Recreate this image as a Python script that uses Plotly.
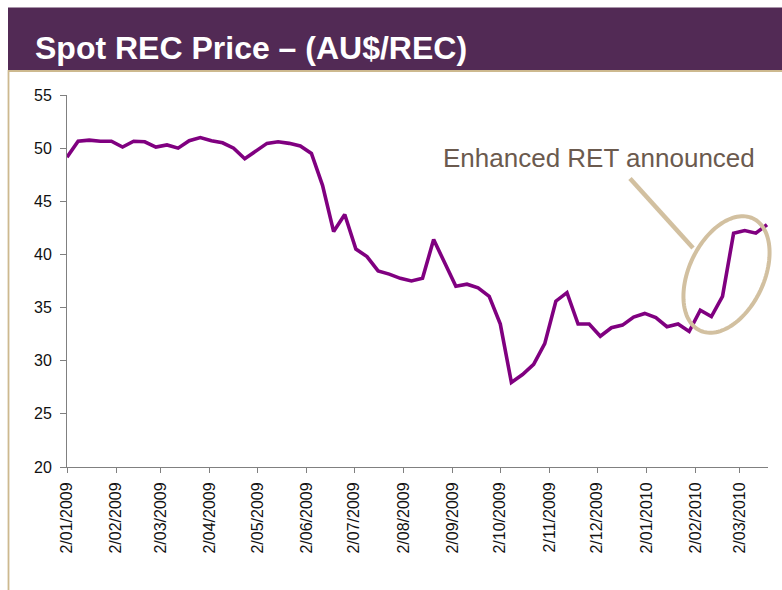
import math
import plotly.graph_objects as go

# ---------------- data ----------------
dates = [
    "2009-01-02", "2009-01-09", "2009-01-16", "2009-01-23", "2009-01-30",
    "2009-02-06", "2009-02-13", "2009-02-20", "2009-02-27",
    "2009-03-06", "2009-03-13", "2009-03-20", "2009-03-27",
    "2009-04-03", "2009-04-10", "2009-04-17", "2009-04-24",
    "2009-05-01", "2009-05-08", "2009-05-15", "2009-05-22", "2009-05-29",
    "2009-06-05", "2009-06-12", "2009-06-19", "2009-06-26",
    "2009-07-03", "2009-07-10", "2009-07-17", "2009-07-24", "2009-07-31",
    "2009-08-07", "2009-08-14", "2009-08-21", "2009-08-28",
    "2009-09-04", "2009-09-11", "2009-09-18", "2009-09-25",
    "2009-10-02", "2009-10-09", "2009-10-16", "2009-10-23", "2009-10-30",
    "2009-11-06", "2009-11-13", "2009-11-20", "2009-11-27",
    "2009-12-04", "2009-12-11", "2009-12-18", "2009-12-25",
    "2010-01-01", "2010-01-08", "2010-01-15", "2010-01-22", "2010-01-29",
    "2010-02-05", "2010-02-12", "2010-02-19", "2010-02-26",
    "2010-03-05", "2010-03-12", "2010-03-19",
]
price = [
    49.15, 50.65, 50.75, 50.65, 50.65,
    50.1, 50.65, 50.6, 50.1,
    50.3, 50.0, 50.7, 51.0,
    50.7, 50.5, 50.0, 49.0,
    49.7, 50.45, 50.6, 50.45, 50.2,
    49.5, 46.5, 42.15, 43.75,
    40.5, 39.8, 38.45, 38.15, 37.75,
    37.5, 37.75, 41.4, 39.2,
    37.0, 37.2, 36.85, 36.05,
    33.45, 27.95, 28.7, 29.65, 31.6,
    35.6, 36.4, 33.45, 33.45,
    32.3, 33.1, 33.35, 34.1,
    34.45, 34.05, 33.2, 33.45, 32.75,
    34.75, 34.15, 36.05, 42.0,
    42.25, 42.0, 42.8,
]
tick_dates = [
    "2009-01-02", "2009-02-02", "2009-03-02", "2009-04-02", "2009-05-02",
    "2009-06-02", "2009-07-02", "2009-08-02", "2009-09-02", "2009-10-02",
    "2009-11-02", "2009-12-02", "2010-01-02", "2010-02-02", "2010-03-02",
]
tick_labels = [
    "2/01/2009", "2/02/2009", "2/03/2009", "2/04/2009", "2/05/2009",
    "2/06/2009", "2/07/2009", "2/08/2009", "2/09/2009", "2/10/2009",
    "2/11/2009", "2/12/2009", "2/01/2010", "2/02/2010", "2/03/2010",
]
title_text = "Spot REC Price \u2013 (AU$/REC)"
note_text = "Enhanced RET announced"

# ---------------- layout helpers ----------------
W, H = 782, 590
ML, MR, MT, MB = 67, 14, 95, 123
PW = W - ML - MR
PH = H - MT - MB


def px(x):
    return (x - ML) / PW


def py(y):
    return (H - MB - y) / PH


PURPLE = "#800080"
BAND = "#522A55"
TAN = "#D2C0A0"
BORDER = "#CDB98F"
FONT = "Liberation Sans, Arial, sans-serif"

fig = go.Figure()
fig.add_trace(go.Scatter(
    x=dates, y=price, mode="lines",
    line=dict(color=PURPLE, width=3.6),
    hoverinfo="x+y", showlegend=False,
))

shapes = []
# title band
shapes.append(dict(type="rect", xref="paper", yref="paper",
                   x0=px(8), x1=px(790), y0=py(70), y1=py(7.5),
                   fillcolor=BAND, line=dict(width=0), layer="below"))
# tan border (left + top)
shapes.append(dict(type="rect", xref="paper", yref="paper",
                   x0=px(8.5), x1=px(800), y0=py(620), y1=py(71),
                   fillcolor="rgba(0,0,0,0)", line=dict(color=BORDER, width=1.8),
                   layer="below"))

# ellipse highlight (rotated)
cx, cy, a, b, th = 726.5, 274.5, 62.0, 37.5, math.radians(64.6)
pts = []
for k in range(0, 121):
    t = 2 * math.pi * k / 120
    X = cx + a * math.cos(t) * math.cos(th) - b * math.sin(t) * math.sin(th)
    Y = cy - (a * math.cos(t) * math.sin(th) + b * math.sin(t) * math.cos(th))
    pts.append((px(X), py(Y)))
path = "M " + " L ".join(f"{u:.5f},{v:.5f}" for u, v in pts) + " Z"
shapes.append(dict(type="path", xref="paper", yref="paper", path=path,
                   line=dict(color=TAN, width=4), fillcolor="rgba(0,0,0,0)"))
# connector line
shapes.append(dict(type="line", xref="paper", yref="paper",
                   x0=px(630), y0=py(178.5), x1=px(693), y1=py(248),
                   line=dict(color=TAN, width=4.5)))

annotations = [
    dict(text=f"<b>{title_text}</b>", xref="paper", yref="paper",
         x=px(33), y=py(48), xanchor="left", yanchor="middle", showarrow=False,
         font=dict(family=FONT, size=32, color="white")),
    dict(text=note_text, xref="paper", yref="paper",
         x=px(441), y=py(158), xanchor="left", yanchor="middle", showarrow=False,
         font=dict(family=FONT, size=26, color="#6B5A4E")),
]

fig.update_layout(
    width=W, height=H,
    margin=dict(l=ML, r=MR, t=MT, b=MB, pad=0),
    paper_bgcolor="white", plot_bgcolor="white",
    font=dict(family=FONT, size=16, color="#111111"),
    shapes=shapes, annotations=annotations,
    showlegend=False,
    xaxis=dict(
        type="date", range=["2009-01-02", "2010-03-19 16:00"],
        tickmode="array", tickvals=tick_dates, ticktext=tick_labels,
        tickangle=-90, ticks="outside", ticklen=5, tickcolor="#808080",
        showline=True, linecolor="#808080", linewidth=1,
        showgrid=False, zeroline=False,
        ticklabelstandoff=3,
        tickfont=dict(family=FONT, size=16, color="#111111"),
    ),
    yaxis=dict(
        range=[20, 55], tick0=20, dtick=5,
        ticks="outside", ticklen=6, tickcolor="#808080",
        showline=True, linecolor="#808080", linewidth=1,
        showgrid=False, zeroline=False,
        ticklabelstandoff=5,
        tickfont=dict(family=FONT, size=16, color="#111111"),
    ),
)

fig.write_html("out.html", config={"displayModeBar": False},
               post_script="document.body.style.margin='0px';document.body.style.padding='0px';")
